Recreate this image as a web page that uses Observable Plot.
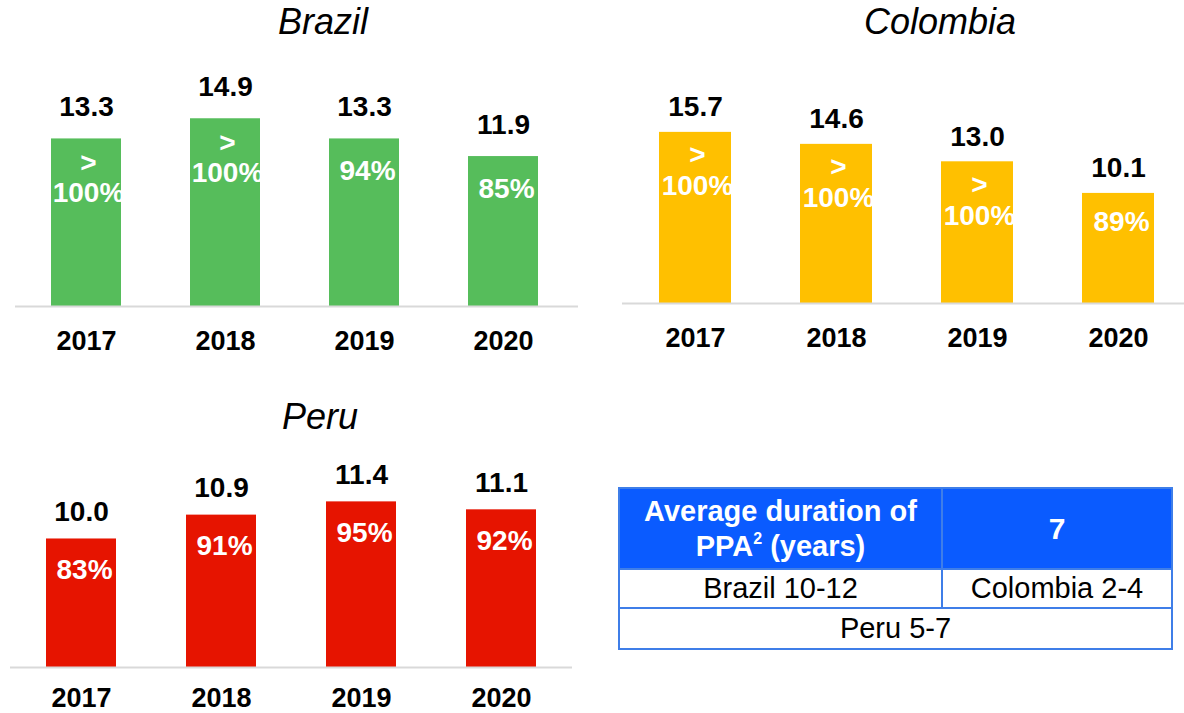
<!DOCTYPE html>
<html>
<head>
<meta charset="utf-8">
<script src="https://cdn.jsdelivr.net/npm/d3@7"></script>
<script src="https://cdn.jsdelivr.net/npm/@observablehq/plot@0.6"></script>
<style>
  html, body { margin: 0; padding: 0; background: #fff; }
  body { width: 1184px; height: 713px; position: relative; overflow: hidden;
         font-family: "Liberation Sans", Arial, sans-serif; }
  .panel { position: absolute; }
  .title { position: absolute; font-style: italic; font-size: 36px; color: #000;
           transform: translateX(-50%); white-space: nowrap; line-height: 1; }
  table.ppa { position: absolute; left: 618px; top: 487px; width: 553px;
              border-collapse: collapse; table-layout: fixed; }
  table.ppa td { border: 2px solid #3f7ee8; text-align: center; padding: 0;
                 font-size: 29px; color: #000; line-height: 1; }
  table.ppa td.head { background: #0a5bff; color: #fff; font-weight: bold; line-height: 35px; }
  table.ppa sup { font-size: 16px; vertical-align: 12px; line-height: 0; }
</style>
</head>
<body>
<script>
// ---- data ----
const years = ["2017", "2018", "2019", "2020"];
const brazilValues = [13.3, 14.9, 13.3, 11.9];
const brazilShares = ["> 100%", "> 100%", "94%", "85%"];
const colombiaValues = [15.7, 14.6, 13.0, 10.1];
const colombiaShares = ["> 100%", "> 100%", "> 100%", "89%"];
const peruValues = [10.0, 10.9, 11.4, 11.1];
const peruShares = ["83%", "91%", "95%", "92%"];

const tableHeaderLines = ["Average duration of", "PPA", "2", " (years)"];
const tableHeaderValue = "7";
const durationCountries = ["Brazil", "Colombia", "Peru"];
const durationRanges = ["10-12", "2-4", "5-7"];

const font = '"Liberation Sans", Arial, sans-serif';

function panel(cfg) {
  const data = years.map((year, i) => ({year, value: cfg.values[i], share: cfg.shares[i]}));
  const two = data.filter(d => d.share.startsWith(">"));
  const one = data.filter(d => !d.share.startsWith(">"));
  const y0 = cfg.yDomain[0];
  const chart = Plot.plot({
    width: cfg.width,
    height: cfg.height,
    marginLeft: cfg.marginLeft,
    marginRight: cfg.marginRight,
    marginTop: cfg.marginTop,
    marginBottom: cfg.marginBottom,
    style: {fontFamily: font, color: "#000", background: "transparent", overflow: "hidden"},
    x: {domain: years, range: cfg.xRange, paddingInner: cfg.paddingInner, paddingOuter: 0.25, axis: null},
    y: {domain: cfg.yDomain, axis: null},
    marks: [
      Plot.barY(data, {x: "year", y1: y0, y2: "value", fill: cfg.color}),
      Plot.ruleY([y0], {stroke: "#d9d9d9", strokeWidth: 2}),
      Plot.text(data, {x: "year", y: "value", text: d => d.value.toFixed(1), dy: cfg.valueDy,
        fontSize: 28, fontWeight: "bold", fill: "#000"}),
      Plot.text(two, {x: "year", y: "value", text: () => ">", dy: cfg.line1Dy, dx: 2,
        fontSize: 28, fontWeight: "bold", fill: "#fff"}),
      Plot.text(two, {x: "year", y: "value", text: d => d.share.replace(/^>\s*/, ""), dy: cfg.line2Dy, dx: 2,
        fontSize: 28, fontWeight: "bold", fill: "#fff"}),
      Plot.text(one, {x: "year", y: "value", text: "share", dy: cfg.singleDy, dx: 3,
        fontSize: 28, fontWeight: "bold", fill: "#fff"}),
      Plot.axisX({tickSize: 0, tickPadding: cfg.tickPadding, fontSize: 27, fontWeight: "bold",
        label: null, fill: "#000"})
    ]
  });
  const div = document.createElement("div");
  div.className = "panel";
  div.style.left = cfg.left + "px";
  div.style.top = cfg.top + "px";
  div.appendChild(chart);
  document.body.appendChild(div);

  const t = document.createElement("div");
  t.className = "title";
  t.textContent = cfg.title;
  t.style.left = cfg.titleX + "px";
  t.style.top = cfg.titleY + "px";
  document.body.appendChild(t);
}

panel({
  title: "Brazil", titleX: 323, titleY: 4,
  values: brazilValues, shares: brazilShares, color: "#56bd5b",
  left: 0, top: 0, width: 590, height: 360,
  marginLeft: 15, marginRight: 12, marginTop: 54, marginBottom: 54,
  xRange: [15, 573], paddingInner: 0.5, yDomain: [0, 20],
  valueDy: -32, line1Dy: 24, line2Dy: 54, singleDy: 32, tickPadding: 24
});

panel({
  title: "Colombia", titleX: 940, titleY: 4,
  values: colombiaValues, shares: colombiaShares, color: "#ffc000",
  left: 600, top: 0, width: 584, height: 360,
  marginLeft: 22, marginRight: 0, marginTop: 85, marginBottom: 57,
  xRange: [22, 591], paddingInner: 0.49, yDomain: [0, 20],
  valueDy: -25, line1Dy: 23, line2Dy: 54, singleDy: 29, tickPadding: 24
});

panel({
  title: "Peru", titleX: 320, titleY: 399,
  values: peruValues, shares: peruShares, color: "#e61400",
  left: 0, top: 360, width: 585, height: 353,
  marginLeft: 10, marginRight: 13, marginTop: 42, marginBottom: 46,
  xRange: [10, 572], paddingInner: 0.5, yDomain: [5.15, 15.15],
  valueDy: -27, line1Dy: 24, line2Dy: 54, singleDy: 31, tickPadding: 20
});

// ---- table ----
const table = document.createElement("table");
table.className = "ppa";
table.innerHTML = `
  <colgroup><col style="width:323px"><col style="width:230px"></colgroup>
  <tr style="height:81px">
    <td class="head">${tableHeaderLines[0]}<br>${tableHeaderLines[1]}<sup>${tableHeaderLines[2]}</sup>${tableHeaderLines[3]}</td>
    <td class="head" style="font-size:30px">${tableHeaderValue}</td>
  </tr>
  <tr style="height:39px">
    <td>${durationCountries[0]} ${durationRanges[0]}</td>
    <td>${durationCountries[1]} ${durationRanges[1]}</td>
  </tr>
  <tr style="height:41px">
    <td colspan="2">${durationCountries[2]} ${durationRanges[2]}</td>
  </tr>`;
document.body.appendChild(table);
</script>
</body>
</html>
